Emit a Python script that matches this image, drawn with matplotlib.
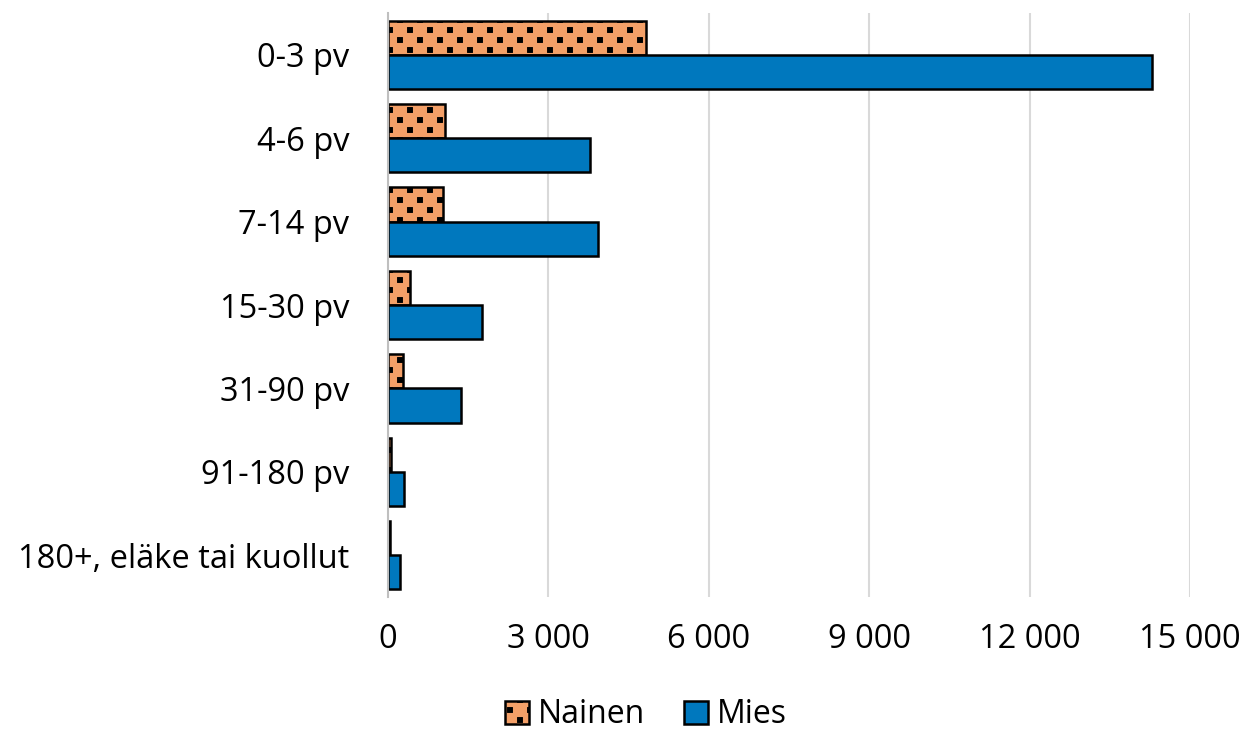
import matplotlib
matplotlib.use("Agg")
import matplotlib.pyplot as plt
import numpy as np
from matplotlib.ticker import FuncFormatter
from matplotlib import hatch as mhatch
from matplotlib.path import Path

plt.rcParams['font.family'] = ['Open Sans', 'DejaVu Sans']
plt.rcParams['hatch.color'] = '#2a1a14'
plt.rcParams['hatch.linewidth'] = 1.0


class SquareDots(mhatch.HatchPatternBase):
    """Staggered small filled squares, like the Excel dotted pattern."""
    filled = True

    def __init__(self, hatch, density):
        self.on = hatch.count('.') > 0
        self.cols = 5
        self.rows = 10
        self.size = 0.045
        pts = []
        if self.on:
            for i in range(self.rows + 1):
                yv = i / self.rows
                off = 0.5 / self.cols if i % 2 else 0.0
                for j in range(-1, self.cols + 2):
                    xv = j / self.cols + off
                    pts.append((xv, yv))
        self.pts = pts
        self.num_vertices = len(pts) * 5

    def set_vertices_and_codes(self, vertices, codes):
        s = self.size / 2
        for k, (xv, yv) in enumerate(self.pts):
            vertices[5*k:5*k+5] = [(xv - s, yv - s), (xv + s, yv - s),
                                   (xv + s, yv + s), (xv - s, yv + s), (xv - s, yv - s)]
            codes[5*k] = Path.MOVETO
            codes[5*k+1:5*k+4] = Path.LINETO
            codes[5*k+4] = Path.CLOSEPOLY


mhatch._hatch_types = [t for t in mhatch._hatch_types
                       if t is not mhatch.SmallFilledCircles] + [SquareDots]

categories = ['0-3 pv', '4-6 pv', '7-14 pv', '15-30 pv', '31-90 pv', '91-180 pv', '180+, eläke tai kuollut']
nainen = [4820, 1060, 1030, 410, 280, 50, 35]
mies = [14290, 3780, 3930, 1760, 1370, 300, 225]
xticks = [0, 3000, 6000, 9000, 12000, 15000]

fig = plt.figure(figsize=(12.47, 7.31), dpi=100)
ax = fig.add_axes([388/1247, 1-597/731, (1190-388)/1247, 584/731])

y = np.arange(len(categories))
h = 0.41
ax.barh(y - h/2, nainen, height=h, color='#F4A068', edgecolor='black', linewidth=1.8,
        hatch='.', label='Nainen', zorder=3)
ax.barh(y + h/2, mies, height=h, color='#0078BE', edgecolor='black', linewidth=1.8,
        label='Mies', zorder=3)

ax.set_ylim(len(categories) - 0.5, -0.5)
ax.set_xlim(0, 15000)
ax.set_yticks(y)
ax.set_yticklabels(categories, fontsize=23.5)
ax.set_xticks(xticks)
ax.xaxis.set_major_formatter(FuncFormatter(lambda v, p: f"{int(v):,}".replace(",", " ")))
ax.tick_params(axis='x', labelsize=23.5, length=0, pad=19)
ax.tick_params(axis='y', length=0, pad=28)
ax.grid(axis='x', color='#D9D9D9', linewidth=1.5, zorder=0)
for s in ['top', 'right', 'bottom']:
    ax.spines[s].set_visible(False)
ax.spines['left'].set_color('#BFBFBF')
ax.spines['left'].set_linewidth(1.5)
ax.spines['left'].set_zorder(4)

leg = fig.legend(loc='lower center', bbox_to_anchor=(0.518, -0.04), ncol=2, frameon=False,
                 fontsize=23, handlelength=0.75, handleheight=0.75, handletextpad=0.3,
                 columnspacing=1.2)

fig.savefig('out.png', dpi=100)
